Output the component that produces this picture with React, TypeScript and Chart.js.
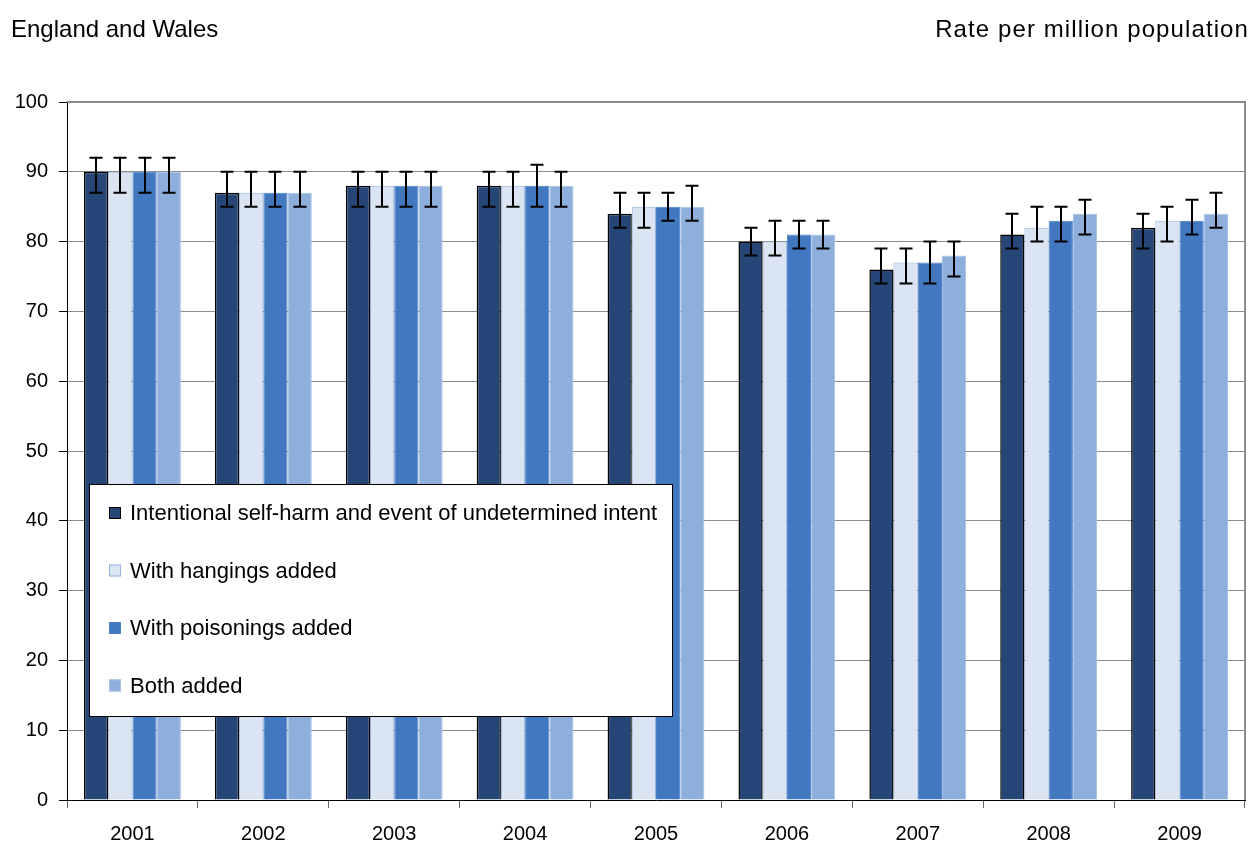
import React, { useEffect, useRef } from "react";
import { Chart, registerables } from "chart.js";

Chart.register(...registerables);

const categories = ["2001", "2002", "2003", "2004", "2005", "2006", "2007", "2008", "2009"];

const seriesLabels = [
  "Intentional self-harm and event of undetermined intent",
  "With hangings added",
  "With poisonings added",
  "Both added",
];

const intentional = [90, 87, 88, 88, 84, 80, 76, 81, 82];
const hangings = [90, 87, 88, 88, 85, 80, 77, 82, 83];
const poisonings = [90, 87, 88, 88, 85, 81, 77, 83, 83];
const both = [90, 87, 88, 88, 85, 81, 78, 84, 84];

const intentionalLow = [87, 85, 85, 85, 82, 78, 74, 79, 79];
const intentionalHigh = [92, 90, 90, 90, 87, 82, 79, 84, 84];
const hangingsLow = [87, 85, 85, 85, 82, 78, 74, 80, 80];
const hangingsHigh = [92, 90, 90, 90, 87, 83, 79, 85, 85];
const poisoningsLow = [87, 85, 85, 85, 83, 79, 74, 80, 81];
const poisoningsHigh = [92, 90, 90, 91, 87, 83, 80, 85, 86];
const bothLow = [87, 85, 85, 85, 83, 79, 75, 81, 82];
const bothHigh = [92, 90, 90, 90, 88, 83, 80, 86, 87];

const yTicks = [0, 10, 20, 30, 40, 50, 60, 70, 80, 90, 100];

const lows = [intentionalLow, hangingsLow, poisoningsLow, bothLow];
const highs = [intentionalHigh, hangingsHigh, poisoningsHigh, bothHigh];

const FONT = "'Liberation Sans', Arial, sans-serif";

const errorBarsPlugin = {
  id: "errorBars",
  afterDatasetsDraw(chart: any) {
    const ctx = chart.ctx;
    const y = chart.scales.y;
    ctx.save();
    ctx.strokeStyle = "#000";
    ctx.lineWidth = 2;
    chart.data.datasets.forEach((_ds: any, i: number) => {
      const meta = chart.getDatasetMeta(i);
      meta.data.forEach((bar: any, j: number) => {
        const x = Math.round(bar.x);
        const yl = y.getPixelForValue(lows[i][j]);
        const yh = y.getPixelForValue(highs[i][j]);
        ctx.beginPath();
        ctx.moveTo(x, yl);
        ctx.lineTo(x, yh);
        ctx.moveTo(x - 6.5, yl);
        ctx.lineTo(x + 6.5, yl);
        ctx.moveTo(x - 6.5, yh);
        ctx.lineTo(x + 6.5, yh);
        ctx.stroke();
      });
    });
    ctx.restore();
  },
};

const framePlugin = {
  id: "frame",
  afterDraw(chart: any) {
    const { ctx, chartArea } = chart;
    ctx.save();
    ctx.strokeStyle = "#8c8c8c";
    ctx.lineWidth = 2;
    ctx.beginPath();
    ctx.moveTo(chartArea.left, chartArea.top);
    ctx.lineTo(chartArea.right, chartArea.top);
    ctx.lineTo(chartArea.right, chartArea.bottom);
    ctx.stroke();
    ctx.restore();
  },
};

const legendBoxPlugin = {
  id: "legendBox",
  afterDraw(chart: any) {
    const ctx = chart.ctx;
    ctx.save();
    const x = 89, y = 484, w = 583, h = 232;
    ctx.fillStyle = "#fff";
    ctx.fillRect(x, y, w, h);
    ctx.strokeStyle = "#000";
    ctx.lineWidth = 1;
    ctx.strokeRect(x + 0.5, y + 0.5, w, h);
    chart.data.datasets.forEach((ds: any, i: number) => {
      const cy = 513 + i * 57.5;
      ctx.fillStyle = ds.backgroundColor;
      ctx.fillRect(109, cy - 6, 12, 12);
      ctx.strokeStyle = ds.borderColor;
      ctx.lineWidth = 1;
      ctx.strokeRect(109.5, cy - 5.5, 11, 11);
      ctx.fillStyle = "#000";
      ctx.font = `22px ${FONT}`;
      ctx.textBaseline = "middle";
      ctx.textAlign = "left";
      ctx.fillText(ds.label, 130, cy + 1);
    });
    ctx.restore();
  },
};

export default function App() {
  const ref = useRef<HTMLCanvasElement>(null);
  useEffect(() => {
    document.body.style.margin = "0";
    const chart = new Chart(ref.current as HTMLCanvasElement, {
      type: "bar",
      data: {
        labels: categories,
        datasets: [
          { label: seriesLabels[0], data: intentional, backgroundColor: "#264677", borderColor: "#000000", borderWidth: 1.5 },
          { label: seriesLabels[1], data: hangings, backgroundColor: "#dae4f2", borderColor: "#95b3dc", borderWidth: 1 },
          { label: seriesLabels[2], data: poisonings, backgroundColor: "#4178c0", borderColor: "#4a80c6", borderWidth: 1 },
          { label: seriesLabels[3], data: both, backgroundColor: "#8eaedb", borderColor: "#a6c0e4", borderWidth: 1 },
        ],
      },
      options: {
        responsive: false,
        animation: false,
        devicePixelRatio: 1,
        layout: { padding: { top: 102, right: 8, left: 0, bottom: 0 } },
        datasets: { bar: { categoryPercentage: 0.74, barPercentage: 1.0 } },
        plugins: {
          legend: { display: false },
          tooltip: { enabled: false },
          title: { display: false },
        },
        scales: {
          x: {
            afterFit: (s: any) => { s.height = 42; },
            grid: { offset: true, drawOnChartArea: false, drawTicks: true, tickLength: 8, tickColor: "#666" },
            border: { color: "#000", width: 1 },
            ticks: { color: "#000", font: { family: FONT, size: 20 }, padding: 14 },
          },
          y: {
            min: 0,
            max: 100,
            afterFit: (s: any) => { s.width = 67; },
            afterBuildTicks: (s: any) => { s.ticks = yTicks.map((v) => ({ value: v })); },
            grid: { color: "#8c8c8c", lineWidth: 1, tickLength: 8, tickColor: "#000" },
            border: { color: "#000", width: 1 },
            ticks: { color: "#000", font: { family: FONT, size: 20 }, padding: 11 },
          },
        },
      },
      plugins: [errorBarsPlugin, framePlugin, legendBoxPlugin],
    });
    return () => chart.destroy();
  }, []);

  return (
    <div style={{ position: "relative", width: 1253, height: 842, background: "#fff", fontFamily: FONT, color: "#000" }}>
      <canvas ref={ref} width={1253} height={842} style={{ position: "absolute", left: 0, top: 0 }} />
      <div style={{ position: "absolute", left: 11, top: 17, fontSize: 24, lineHeight: 1, whiteSpace: "nowrap" }}>England and Wales</div>
      <div style={{ position: "absolute", right: 4, top: 17, fontSize: 24, lineHeight: 1, letterSpacing: 1.1, whiteSpace: "nowrap" }}>Rate per million population</div>
    </div>
  );
}
